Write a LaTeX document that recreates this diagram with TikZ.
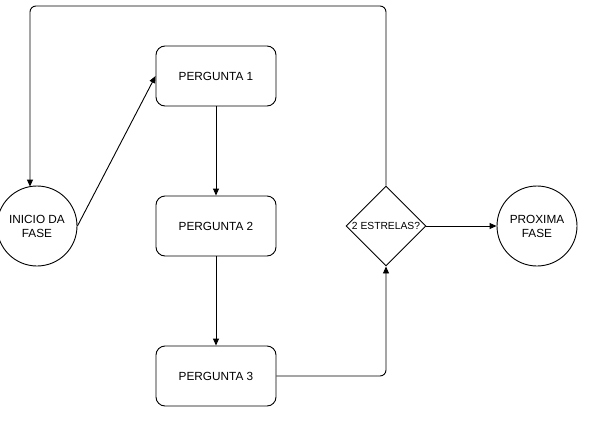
\documentclass[tikz,border=0pt]{standalone}
\usepackage{fontspec}
\setmainfont{Liberation Sans}
\usetikzlibrary{shapes.geometric,arrows.meta}
\begin{document}
\begin{tikzpicture}[x=1pt,y=-1pt,
  every node/.style={font=\fontsize{11.8}{14}\selectfont, line width=0.9pt},
  qbox/.style={draw, rounded corners=9pt, minimum width=120pt, minimum height=60pt, inner sep=0pt},
  term/.style={draw, circle, minimum size=80pt, inner sep=0pt, align=center},
  dec/.style={draw, diamond, minimum width=80pt, minimum height=80pt, inner sep=0pt, aspect=1, font=\fontsize{10.3}{12}\selectfont},
  conn/.style={line width=0.9pt, -{Triangle[length=7pt,width=6pt]}}]
\useasboundingbox (0,0) rectangle (590,426);
\node[term] (start) at (37,226) {INICIO DA\\FASE};
\node[qbox] (p1) at (216,76) {PERGUNTA 1};
\node[qbox] (p2) at (216,226) {PERGUNTA 2};
\node[qbox] (p3) at (216,376) {PERGUNTA 3};
\node[dec] (d) at (386,226) {2 ESTRELAS?};
\node[term] (next) at (537,226) {PROXIMA\\FASE};
\coordinate (c1) at (386,376);
\coordinate (t1) at (386,6);
\coordinate (t2) at (30,6);
\coordinate (t3) at (30,186.6);
\draw[conn] (start.east) -- (p1.west);
\draw[conn] (p1.south) -- (p2.north);
\draw[conn] (p2.south) -- (p3.north);
\draw[conn, rounded corners=6pt] (p3.east) -- (c1) -- (d.south);
\draw[conn] (d.east) -- (next.west);
\draw[conn, rounded corners=6pt] (d.north) -- (t1) -- (t2) -- (t3);
\end{tikzpicture}
\end{document}
